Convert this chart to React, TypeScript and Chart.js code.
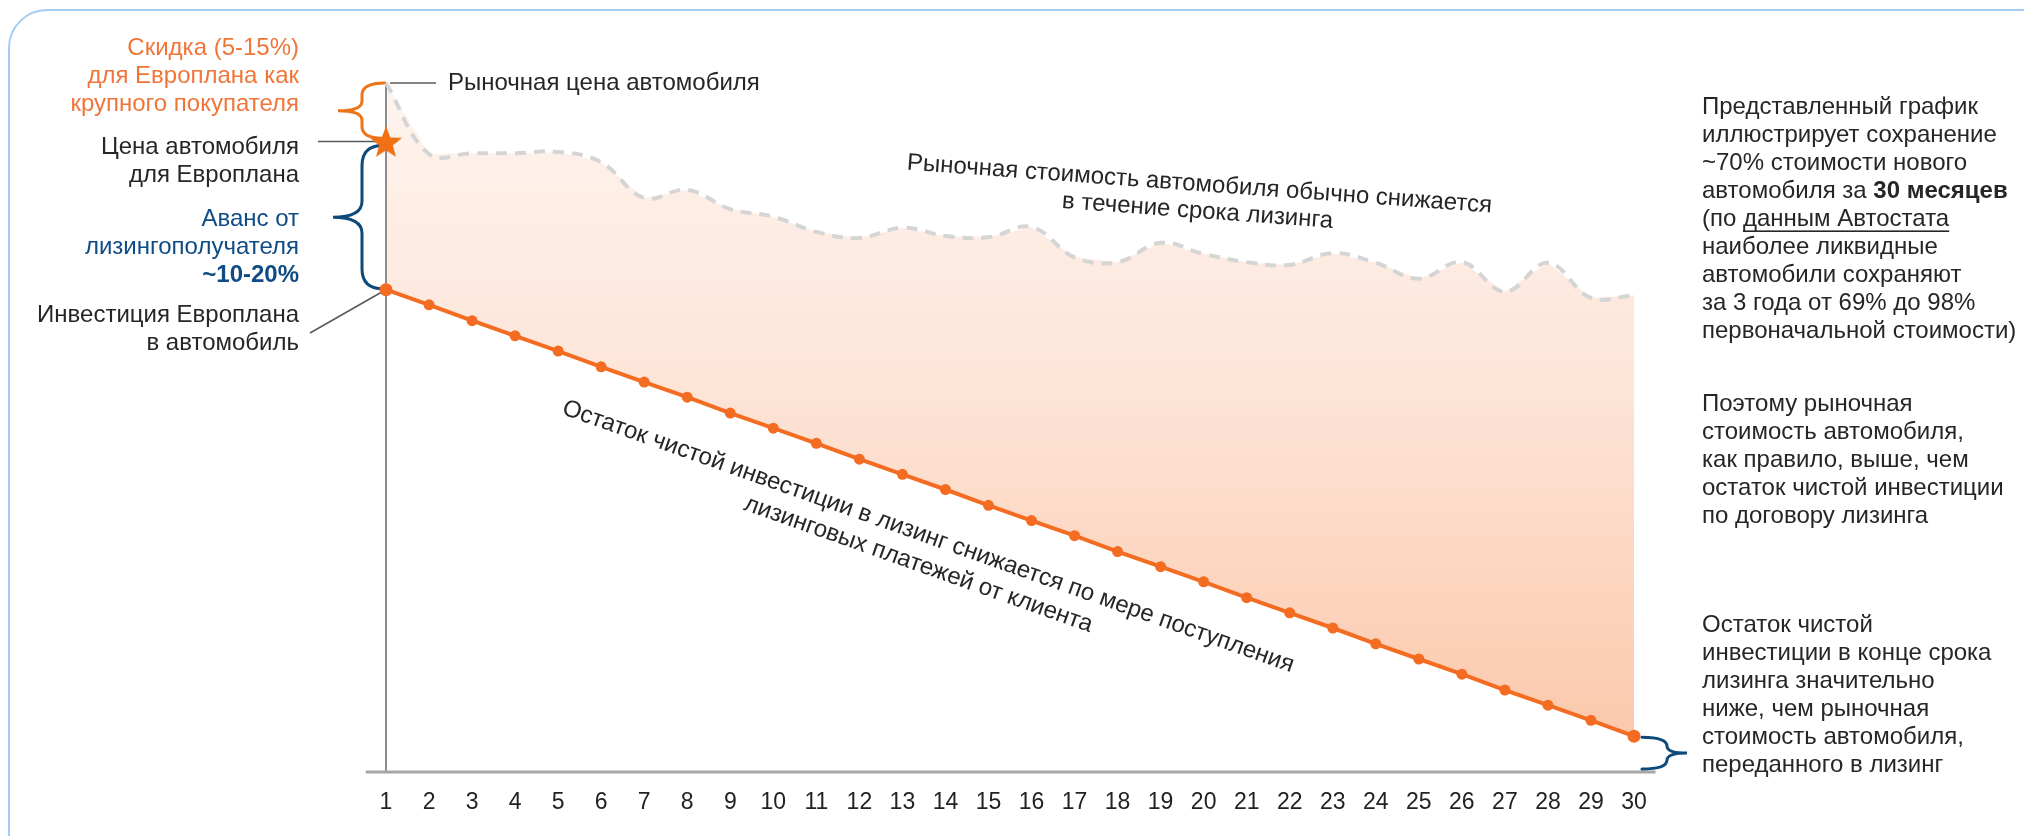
import React, { useEffect, useRef } from 'react';
import { Chart, registerables } from 'chart.js';

Chart.register(...registerables);

// ---------- data ----------
const MONTHS = ['1', '2', '3', '4', '5', '6', '7', '8', '9', '10', '11', '12', '13', '14', '15', '16', '17', '18', '19', '20', '21', '22', '23', '24', '25', '26', '27', '28', '29', '30'];

// Market value of the car, % of the new-car market price
const MARKET_VALUE = [100, 89.7, 89.8, 89.8, 90.0, 88.5, 83.3, 84.5, 81.7, 80.6, 78.4, 77.5, 79.0, 77.8, 77.6, 79.1, 74.7, 74.0, 76.8, 75.2, 74.0, 73.6, 75.3, 73.9, 71.6, 74.0, 69.7, 73.9, 68.8, 69.2];

// Remaining net investment in leasing, % of the market price
const NET_INVESTMENT = [70.0, 67.8, 65.5, 63.3, 61.1, 58.8, 56.6, 54.4, 52.1, 49.9, 47.7, 45.4, 43.2, 41.0, 38.7, 36.5, 34.3, 32.0, 29.8, 27.6, 25.3, 23.1, 20.9, 18.6, 16.4, 14.2, 11.9, 9.7, 7.5, 5.2];

// Car price for Europlan (month 1 only)
const EUROPLAN_PRICE = [91.5];

// ---------- texts ----------
const DISCOUNT_TEXT = ['Скидка (5-15%)', 'для Европлана как', 'крупного покупателя'];
const PRICE_TEXT = ['Цена автомобиля', 'для Европлана'];
const ADVANCE_TEXT = ['Аванс от', 'лизингополучателя'];
const ADVANCE_BOLD = '~10-20%';
const INVEST_TEXT = ['Инвестиция Европлана', 'в автомобиль'];
const MARKET_PRICE_TEXT = 'Рыночная цена автомобиля';
const MARKET_TREND_TEXT = ['Рыночная стоимость автомобиля обычно снижается', 'в течение срока лизинга'];
const INVEST_TREND_TEXT = ['Остаток чистой инвестиции в лизинг снижается по мере поступления', 'лизинговых платежей от клиента'];

type Run = { t: string; b?: boolean; u?: boolean };
const NOTE_1: Run[][] = [
  [{ t: 'Представленный график' }],
  [{ t: 'иллюстрирует сохранение' }],
  [{ t: '~70% стоимости нового' }],
  [{ t: 'автомобиля за ' }, { t: '30 месяцев', b: true }],
  [{ t: '(по ' }, { t: 'данным Автостата', u: true }],
  [{ t: 'наиболее ликвидные' }],
  [{ t: 'автомобили сохраняют' }],
  [{ t: 'за 3 года от 69% до 98%' }],
  [{ t: 'первоначальной стоимости)' }],
];
const NOTE_2 = ['Поэтому рыночная', 'стоимость автомобиля,', 'как правило, выше, чем', 'остаток чистой инвестиции', 'по договору лизинга'];
const NOTE_3 = ['Остаток чистой', 'инвестиции в конце срока', 'лизинга значительно', 'ниже, чем рыночная', 'стоимость автомобиля,', 'переданного в лизинг'];

// ---------- styles ----------
const FONT = '"Liberation Sans", Arial, Helvetica, sans-serif';
const ORANGE = '#f36c21';
const STAR_ORANGE = '#f07012';
const BRACE_ORANGE = '#ef7418';
const NAVY = '#0d4a7a';
const TEXT_ORANGE = '#f07538';
const TEXT_BLUE = '#0f4c85';
const TEXT_DARK = '#262626';
const LEADER = '#5a5a5a';

function makeStar(r: number, color: string): HTMLCanvasElement {
  const c = document.createElement('canvas');
  const s = Math.ceil(r * 2 + 2);
  c.width = s;
  c.height = s;
  const g = c.getContext('2d')!;
  g.fillStyle = color;
  g.beginPath();
  for (let i = 0; i < 10; i++) {
    const rad = i % 2 === 0 ? r : r * 0.42;
    const a = -Math.PI / 2 + (i * Math.PI) / 5;
    const px = s / 2 + rad * Math.cos(a);
    const py = s / 2 + 1.5 + rad * Math.sin(a);
    if (i === 0) g.moveTo(px, py);
    else g.lineTo(px, py);
  }
  g.closePath();
  g.fill();
  return c;
}

function brace(ctx: CanvasRenderingContext2D, xEnd: number, yTop: number, yBot: number, xMid: number, xTip: number, r: number) {
  const yc = (yTop + yBot) / 2;
  ctx.beginPath();
  ctx.moveTo(xEnd, yTop);
  ctx.quadraticCurveTo(xMid, yTop, xMid, yTop + r);
  ctx.lineTo(xMid, yc - r * 0.8);
  ctx.quadraticCurveTo(xMid, yc, xTip, yc);
  ctx.quadraticCurveTo(xMid, yc, xMid, yc + r * 0.8);
  ctx.lineTo(xMid, yBot - r);
  ctx.quadraticCurveTo(xMid, yBot, xEnd, yBot);
  ctx.stroke();
}

function line(ctx: CanvasRenderingContext2D, x1: number, y1: number, x2: number, y2: number) {
  ctx.beginPath();
  ctx.moveTo(x1, y1);
  ctx.lineTo(x2, y2);
  ctx.stroke();
}

const TXT = 24;
const LH = 28.1;

const annotationsPlugin = {
  id: 'leasingAnnotations',
  afterDatasetDraw(chart: any, args: any) {
    if (args.index !== 0) return;
    const { ctx } = chart;
    const xs = chart.scales.x;
    const ys = chart.scales.y;
    const n = MONTHS.length;
    const x0 = xs.getPixelForValue(0);
    const xN = xs.getPixelForValue(n - 1);
    const step = (xN - x0) / (n - 1);
    const yZero = ys.getPixelForValue(0);
    const yTop = ys.getPixelForValue(MARKET_VALUE[0]);
    const yStar = ys.getPixelForValue(EUROPLAN_PRICE[0]);
    const yInv0 = ys.getPixelForValue(NET_INVESTMENT[0]);
    const yInvN = ys.getPixelForValue(NET_INVESTMENT[n - 1]);
    ctx.save();
    // vertical axis
    ctx.strokeStyle = '#8c8c8c';
    ctx.lineWidth = 2;
    line(ctx, x0, yTop, x0, yZero);
    // horizontal axis
    ctx.strokeStyle = '#a6a6a6';
    ctx.lineWidth = 3;
    line(ctx, x0 - step * 0.47, yZero, xN + step * 0.5, yZero);
    // braces
    ctx.lineWidth = 3;
    ctx.lineCap = 'round';
    ctx.strokeStyle = BRACE_ORANGE;
    brace(ctx, x0 - 1, yTop, yStar - 3, x0 - 24, x0 - 48, 12);
    ctx.strokeStyle = NAVY;
    brace(ctx, x0 - 3, yStar + 4, yInv0 - 1, x0 - 24, x0 - 53, 20);
    brace(ctx, xN + 8, yInvN + 1, yZero - 3, xN + 33, xN + 53, 9);
    // leaders
    ctx.strokeStyle = LEADER;
    ctx.lineWidth = 1.6;
    ctx.lineCap = 'butt';
    line(ctx, x0 + 4, yTop, x0 + 50, yTop);
    line(ctx, 318, yStar, x0 - 6, yStar);
    line(ctx, 310, 333, x0 - 2, yInv0 + 1);
    ctx.restore();
  },
  afterDatasetsDraw(chart: any) {
    const { ctx } = chart;
    const xs = chart.scales.x;
    const ys = chart.scales.y;
    const x0 = xs.getPixelForValue(0);
    const yTop = ys.getPixelForValue(MARKET_VALUE[0]);
    ctx.save();
    ctx.textBaseline = 'middle';
    ctx.font = `${TXT}px ${FONT}`;

    // left annotations (right aligned)
    ctx.textAlign = 'right';
    const rx = 299;
    ctx.fillStyle = TEXT_ORANGE;
    DISCOUNT_TEXT.forEach((t, i) => ctx.fillText(t, rx, 48 + i * LH));
    ctx.fillStyle = TEXT_DARK;
    PRICE_TEXT.forEach((t, i) => ctx.fillText(t, rx, 147 + i * LH));
    ctx.fillStyle = TEXT_BLUE;
    ADVANCE_TEXT.forEach((t, i) => ctx.fillText(t, rx, 219 + i * LH));
    ctx.font = `bold ${TXT}px ${FONT}`;
    ctx.fillText(ADVANCE_BOLD, rx, 219 + 2 * LH);
    ctx.font = `${TXT}px ${FONT}`;
    ctx.fillStyle = TEXT_DARK;
    INVEST_TEXT.forEach((t, i) => ctx.fillText(t, rx, 315 + i * LH));

    // market price label
    ctx.textAlign = 'left';
    ctx.fillText(MARKET_PRICE_TEXT, x0 + 62, yTop);

    // rotated labels
    ctx.textAlign = 'center';
    ctx.textBaseline = 'alphabetic';
    ctx.save();
    ctx.translate(1199, 191);
    ctx.rotate((4.2 * Math.PI) / 180);
    MARKET_TREND_TEXT.forEach((t, i) => ctx.fillText(t, 0, i * 27));
    ctx.restore();
    ctx.save();
    ctx.translate(926, 543);
    ctx.rotate((19.5 * Math.PI) / 180);
    INVEST_TREND_TEXT.forEach((t, i) => ctx.fillText(t, 0, i * 29.5));
    ctx.restore();

    // right notes
    ctx.textAlign = 'left';
    ctx.textBaseline = 'middle';
    const nx = 1702;
    NOTE_1.forEach((runs, i) => {
      let cx = nx;
      const cy = 107 + i * LH;
      runs.forEach((r) => {
        ctx.font = `${r.b ? 'bold ' : ''}${TXT}px ${FONT}`;
        ctx.fillStyle = TEXT_DARK;
        ctx.fillText(r.t, cx, cy);
        const w = ctx.measureText(r.t).width;
        if (r.u) ctx.fillRect(cx, cy + 11, w, 1.6);
        cx += w;
      });
    });
    ctx.font = `${TXT}px ${FONT}`;
    NOTE_2.forEach((t, i) => ctx.fillText(t, nx, 404 + i * LH));
    NOTE_3.forEach((t, i) => ctx.fillText(t, nx, 625 + i * LH));

    // frame
    ctx.strokeStyle = '#a3cdf3';
    ctx.lineWidth = 2;
    const r = 38;
    ctx.beginPath();
    ctx.moveTo(9, chart.height + 5);
    ctx.lineTo(9, 10 + r);
    ctx.arcTo(9, 10, 9 + r, 10, r);
    ctx.lineTo(chart.width + 5, 10);
    ctx.stroke();
    ctx.restore();
  },
};

export default function App() {
  const ref = useRef<HTMLCanvasElement | null>(null);

  useEffect(() => {
    document.body.style.margin = '0';
    const canvas = ref.current;
    if (!canvas) return;
    const star = makeStar(17, STAR_ORANGE);
    const lastIdx = NET_INVESTMENT.length - 1;

    const chart = new Chart(canvas, {
      type: 'line',
      data: {
        labels: MONTHS,
        datasets: [
          {
            label: 'area',
            data: MARKET_VALUE,
            tension: 0,
            borderWidth: 0,
            pointRadius: 0,
            fill: { target: 2 },
            backgroundColor: (c: any) => {
              const area = c.chart.chartArea;
              if (!area) return 'rgba(0,0,0,0)';
              const g = c.chart.ctx.createLinearGradient(0, area.top, 0, area.bottom);
              g.addColorStop(0, '#fef4ef');
              g.addColorStop(0.45, '#fde4d7');
              g.addColorStop(1, '#fbc6a7');
              return g;
            },
            order: 4,
            clip: false as any,
          },
          {
            label: 'market',
            data: MARKET_VALUE,
            tension: 0.4,
            borderColor: '#d5d5d5',
            borderWidth: 4,
            borderDash: [11, 8],
            borderCapStyle: 'butt',
            pointRadius: 0,
            fill: false,
            order: 3,
            clip: false as any,
          },
          {
            label: 'investment',
            data: NET_INVESTMENT,
            tension: 0,
            borderColor: ORANGE,
            borderWidth: 4,
            pointRadius: (c: any) => (c.dataIndex === lastIdx || c.dataIndex === 0 ? 6.5 : 5.5),
            pointBackgroundColor: ORANGE,
            pointBorderWidth: 0,
            fill: false,
            order: 2,
            clip: false as any,
          },
          {
            label: 'europlan',
            data: EUROPLAN_PRICE,
            showLine: false,
            pointStyle: star as any,
            pointRadius: 17,
            fill: false,
            order: 1,
            clip: false as any,
          },
        ],
      },
      options: {
        responsive: false,
        animation: false,
        layout: { padding: { top: 83, left: 386, right: 390, bottom: 0 } },
        plugins: {
          legend: { display: false },
          tooltip: { enabled: false },
        },
        events: [],
        scales: {
          x: {
            type: 'category',
            offset: false,
            grid: { display: false },
            border: { display: false },
            ticks: {
              color: '#222222',
              font: { family: FONT, size: 23 },
              padding: 9,
              maxRotation: 0,
              autoSkip: false,
            },
            afterFit: (scale: any) => {
              scale.height = 64;
            },
          },
          y: {
            display: false,
            min: 0,
            max: 100,
          },
        },
      },
      plugins: [annotationsPlugin],
    });
    return () => chart.destroy();
  }, []);

  return (
    <div style={{ width: 2024, height: 836, background: '#ffffff' }}>
      <canvas ref={ref} width={2024} height={836} style={{ display: 'block' }} />
    </div>
  );
}
